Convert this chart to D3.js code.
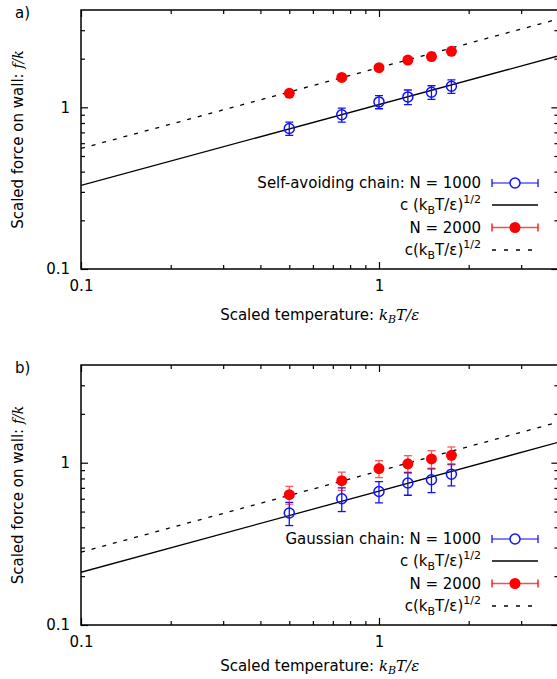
<!DOCTYPE html>
<html>
<head>
<meta charset="utf-8">
<script src="https://cdn.jsdelivr.net/npm/d3@7"></script>
<style>
  body { margin: 0; background: #fff; }
  svg { display: block; }
  text { font-family: "DejaVu Sans", sans-serif; font-size: 15px; fill: #000; }
</style>
</head>
<body>
<div id="chart"></div>
<script>
// ---- data ----
const temps = [0.5, 0.75, 1, 1.25, 1.5, 1.75];

// a) self-avoiding chain
const saN1000 = [0.74, 0.90, 1.08, 1.16, 1.24, 1.35];
const saN1000Err = [0.07, 0.09, 0.10, 0.12, 0.12, 0.13];
const saN2000 = [1.22, 1.53, 1.76, 1.96, 2.06, 2.22];
const saN2000Err = [0.03, 0.04, 0.04, 0.05, 0.05, 0.05];
const saFitC = [1.04, 1.76];   // c for N=1000 (solid), N=2000 (dashed)

// b) gaussian chain
const gaN1000 = [0.49, 0.60, 0.665, 0.75, 0.785, 0.85];
const gaN1000Err = [0.08, 0.10, 0.10, 0.12, 0.13, 0.13];
const gaN2000 = [0.635, 0.775, 0.92, 0.985, 1.055, 1.11];
const gaN2000Err = [0.08, 0.10, 0.11, 0.12, 0.13, 0.14];
const gaFitC = [0.668, 0.889];

const fitT = [0.1, 4];
const majorTicks = [0.1, 1];
const minorTicks = [0.2, 0.3, 0.4, 0.5, 0.6, 0.7, 0.8, 0.9, 2, 3];

const W = 557, H = 679;
const BLUE = "#1010ff", RED = "#ff0000";

const svg = d3.select("#chart").append("svg")
    .attr("width", W)
    .attr("height", H);

function addSubSup(sel, base, sub, rest, sup) {
    sel.append("tspan").text(base);
    sel.append("tspan").attr("dy", 4).style("font-size", "11px").text(sub);
    sel.append("tspan").attr("dy", -4).text(rest);
    sel.append("tspan").attr("dy", -7).style("font-size", "11px").text(sup);
}

function drawPanel(p, idx) {
    const left = 81, right = 558.4;
    const x = d3.scaleLog().domain([0.1, 4]).range([left, right]);
    const y = d3.scaleLog().domain([0.1, 4]).range([p.bottom, p.top]);

    const g = svg.append("g");
    const clipId = "clip" + idx;
    g.append("clipPath").attr("id", clipId)
        .append("rect")
        .attr("x", left).attr("y", p.top)
        .attr("width", right - left).attr("height", p.bottom - p.top);

    // panel tag
    g.append("text").attr("x", 15).attr("y", p.top + 8).text(p.tag);

    // axes: majors with labels, minors without, mirrored on top/right
    const axes = [
        {axis: d3.axisBottom(x), tr: `translate(0,${p.bottom})`, lab: true},
        {axis: d3.axisTop(x), tr: `translate(0,${p.top})`, lab: false},
        {axis: d3.axisLeft(y), tr: `translate(${left},0)`, lab: true},
        {axis: d3.axisRight(y), tr: `translate(${right},0)`, lab: false}
    ];
    axes.forEach(a => {
        const maj = g.append("g").attr("transform", a.tr)
            .call(a.axis.tickValues(majorTicks).tickSize(-7).tickSizeOuter(0)
                .tickPadding(11).tickFormat(d => a.lab ? String(d) : ""));
        maj.select(".domain").remove();
        maj.selectAll("text").style("font-size", "15px").attr("font-family", null);
        maj.selectAll("line").attr("stroke-width", 1.2);
        const mn = g.append("g").attr("transform", a.tr)
            .call(a.axis.tickValues(minorTicks).tickSize(-4).tickSizeOuter(0).tickFormat(""));
        mn.select(".domain").remove();
        mn.selectAll("line").attr("stroke-width", 1.2);
    });

    // frame
    g.append("rect")
        .attr("x", left).attr("y", p.top)
        .attr("width", right - left).attr("height", p.bottom - p.top)
        .attr("fill", "none").attr("stroke", "#000").attr("stroke-width", 1.5);

    // axis titles
    const yl = g.append("text")
        .attr("transform", `translate(23,${(p.top + p.bottom) / 2}) rotate(-90)`)
        .attr("text-anchor", "middle");
    yl.append("tspan").text("Scaled force on wall: ");
    yl.append("tspan").style("font-family", "'DejaVu Serif', serif")
        .style("font-style", "italic").style("font-size", "14px").text("f/k");

    const xl = g.append("text")
        .attr("x", (left + right) / 2).attr("y", p.bottom + p.xLabDy)
        .attr("text-anchor", "middle");
    xl.append("tspan").text("Scaled temperature: ");
    const serif = t => xl.append("tspan").style("font-family", "'DejaVu Serif', serif")
        .style("font-style", "italic").text(t);
    serif("k");
    serif("B").attr("dy", 3).style("font-size", "11px");
    serif("T/ε").attr("dy", -3);

    // fit lines
    const plot = g.append("g").attr("clip-path", `url(#${clipId})`);
    const fitLine = c => d3.line().x(t => x(t)).y(t => y(c * Math.sqrt(t)))(fitT);
    plot.append("path").attr("d", fitLine(p.fitC[0]))
        .attr("fill", "none").attr("stroke", "#000").attr("stroke-width", 1.3);
    plot.append("path").attr("d", fitLine(p.fitC[1]))
        .attr("fill", "none").attr("stroke", "#000").attr("stroke-width", 1.3)
        .attr("stroke-dasharray", "4,7");

    // error bars + markers
    function series(vals, errs, color, filled, errOpacity) {
        const pts = temps.map((t, i) => ({t, v: vals[i], e: errs[i]}));
        const eb = plot.append("g").attr("stroke", color).attr("stroke-width", 1.3)
            .attr("opacity", errOpacity);
        eb.selectAll(".v").data(pts).enter().append("line")
            .attr("x1", d => x(d.t)).attr("x2", d => x(d.t))
            .attr("y1", d => y(d.v - d.e)).attr("y2", d => y(d.v + d.e));
        eb.selectAll(".c1").data(pts).enter().append("line")
            .attr("x1", d => x(d.t) - 4).attr("x2", d => x(d.t) + 4)
            .attr("y1", d => y(d.v - d.e)).attr("y2", d => y(d.v - d.e));
        eb.selectAll(".c2").data(pts).enter().append("line")
            .attr("x1", d => x(d.t) - 4).attr("x2", d => x(d.t) + 4)
            .attr("y1", d => y(d.v + d.e)).attr("y2", d => y(d.v + d.e));
        plot.selectAll(null).data(pts).enter().append("circle")
            .attr("cx", d => x(d.t)).attr("cy", d => y(d.v))
            .attr("r", filled ? 5.5 : 5)
            .attr("fill", filled ? color : "none")
            .attr("stroke", color).attr("stroke-width", filled ? 0 : 1.5);
    }
    series(p.n1000, p.err1000, BLUE, false, 1);
    series(p.n2000, p.err2000, RED, true, 0.65);

    // legend
    const lg = g.append("g");
    const rows = [p.bottom - 86, p.bottom - 64, p.bottom - 41.5, p.bottom - 19];
    const tx = 481, s0 = 492, s1 = 538, sm = 515;
    lg.append("text").attr("x", tx).attr("y", rows[0]).attr("dy", "0.35em")
        .attr("text-anchor", "end").text(p.label);
    const t1 = lg.append("text").attr("x", tx).attr("y", rows[1]).attr("dy", "0.35em")
        .attr("text-anchor", "end");
    addSubSup(t1, "c (k", "B", "T/ε)", "1/2");
    lg.append("text").attr("x", tx).attr("y", rows[2]).attr("dy", "0.35em")
        .attr("text-anchor", "end").text("N = 2000");
    const t3 = lg.append("text").attr("x", tx).attr("y", rows[3]).attr("dy", "0.35em")
        .attr("text-anchor", "end");
    addSubSup(t3, "c(k", "B", "T/ε)", "1/2");

    [[rows[0], BLUE, false], [rows[2], RED, true]].forEach(([ry, col, filled]) => {
        const sg = lg.append("g").attr("stroke", col).attr("stroke-width", 1.3);
        sg.append("line").attr("x1", s0).attr("x2", s1).attr("y1", ry).attr("y2", ry)
            .attr("opacity", 0.7);
        sg.append("line").attr("x1", s0).attr("x2", s0).attr("y1", ry - 4).attr("y2", ry + 4);
        sg.append("line").attr("x1", s1).attr("x2", s1).attr("y1", ry - 4).attr("y2", ry + 4);
        lg.append("circle").attr("cx", sm).attr("cy", ry).attr("r", filled ? 5.5 : 5)
            .attr("fill", filled ? col : "#fff").attr("stroke", col)
            .attr("stroke-width", filled ? 0 : 1.5);
    });
    lg.append("line").attr("x1", s0).attr("x2", s1).attr("y1", rows[1]).attr("y2", rows[1])
        .attr("stroke", "#000").attr("stroke-width", 1.3);
    lg.append("line").attr("x1", s0).attr("x2", s1).attr("y1", rows[3]).attr("y2", rows[3])
        .attr("stroke", "#000").attr("stroke-width", 1.3).attr("stroke-dasharray", "4,8");
}

drawPanel({
    tag: "a)", top: 10, bottom: 269, xLabDy: 51,
    label: "Self-avoiding chain: N = 1000",
    n1000: saN1000, err1000: saN1000Err,
    n2000: saN2000, err2000: saN2000Err,
    fitC: saFitC
}, 0);

drawPanel({
    tag: "b)", top: 365, bottom: 625, xLabDy: 46,
    label: "Gaussian chain: N = 1000",
    n1000: gaN1000, err1000: gaN1000Err,
    n2000: gaN2000, err2000: gaN2000Err,
    fitC: gaFitC
}, 1);
</script>
</body>
</html>
